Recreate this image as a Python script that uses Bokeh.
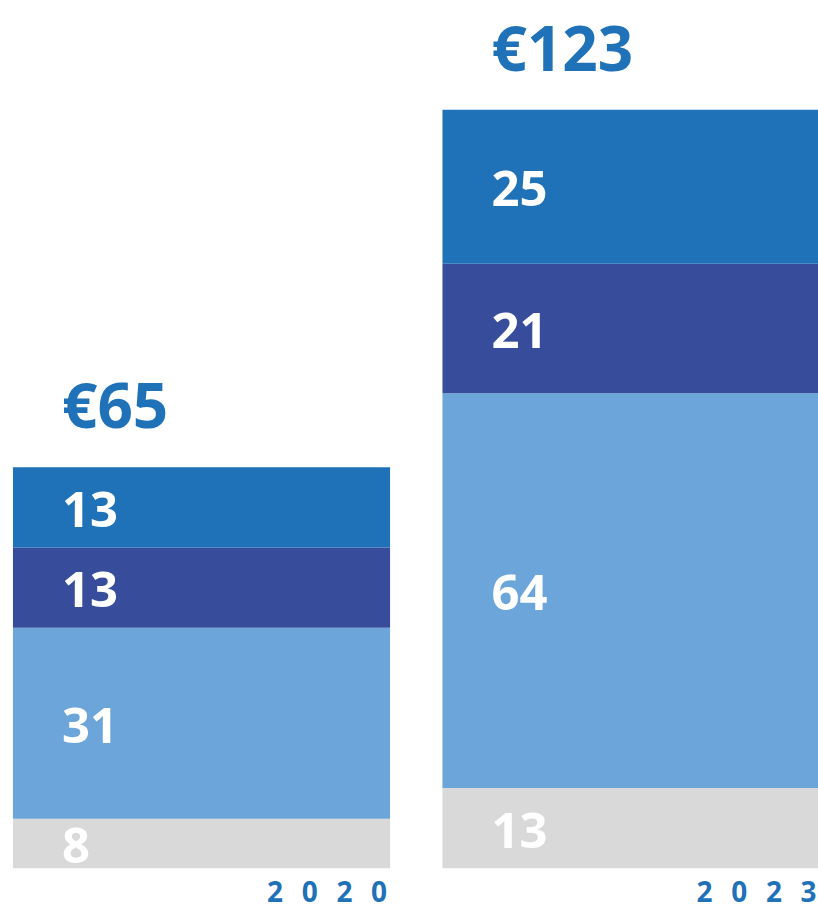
from bokeh.plotting import figure
from bokeh.models import ColumnDataSource, Range1d
from bokeh.core.properties import value
from bokeh.embed import file_html
from bokeh.resources import INLINE

# ---- data ----
years = ["2020", "2023"]
year_labels = ["2\u2002\u20090\u2002\u20092\u2002\u20090", "2\u2002\u20090\u2002\u20092\u2002\u20093"]
seg_other = [8, 13]      # grey (bottom)
seg_light = [31, 64]     # light blue
seg_navy = [13, 21]      # navy
seg_blue = [13, 25]      # blue (top)
totals = [65, 123]
total_labels = ["€65", "€123"]

stack_names = ["other", "light", "navy", "blue"]
stack_values = [seg_other, seg_light, seg_navy, seg_blue]
colors = ["#d9d9d9", "#6ba5da", "#374c9b", "#1f71b8"]
TEXT_BLUE = "#1f71b8"
FONT = "Open Sans"

idx = list(range(len(years)))
BAR_W = 0.878

data = {"x": idx}
for n, v in zip(stack_names, stack_values):
    data[n] = v
src = ColumnDataSource(data)

p = figure(width=818, height=910, output_backend="svg", toolbar_location=None,
           x_range=Range1d(-0.468, 1.4365), y_range=Range1d(-6.86, 140.7),
           min_border=0, outline_line_color=None)
p.axis.visible = False
p.grid.visible = False
p.background_fill_color = "white"
p.border_fill_color = "white"

p.vbar_stack(stack_names, x="x", width=BAR_W, color=colors, source=src, line_color=None)

# segment labels
lx, ly, lt = [], [], []
for i in idx:
    base = 0
    for v in stack_values:
        lx.append(i - BAR_W / 2)
        ly.append(base + v[i] / 2)
        lt.append(str(v[i]))
        base += v[i]
p.text(x=lx, y=ly, text=lt, text_color="white", text_font=value(FONT),
       text_font_style="bold", text_font_size="49px", text_align="left",
       text_baseline="middle", x_offset=49, y_offset=2)

# totals
p.text(x=[i - BAR_W / 2 for i in idx], y=totals, text=total_labels,
       text_color=TEXT_BLUE, text_font=value(FONT), text_font_style="bold",
       text_font_size="62px", text_align="left", text_baseline="middle",
       x_offset=49, y_offset=-63)

# year labels
p.text(x=[i + BAR_W / 2 for i in idx], y=[0] * len(idx), text=year_labels,
       text_color=TEXT_BLUE, text_font=value(FONT), text_font_style="bold",
       text_font_size="28px", text_align="right", text_baseline="middle",
       x_offset=-3, y_offset=23)

open("out.html", "w").write(file_html(p, INLINE))
